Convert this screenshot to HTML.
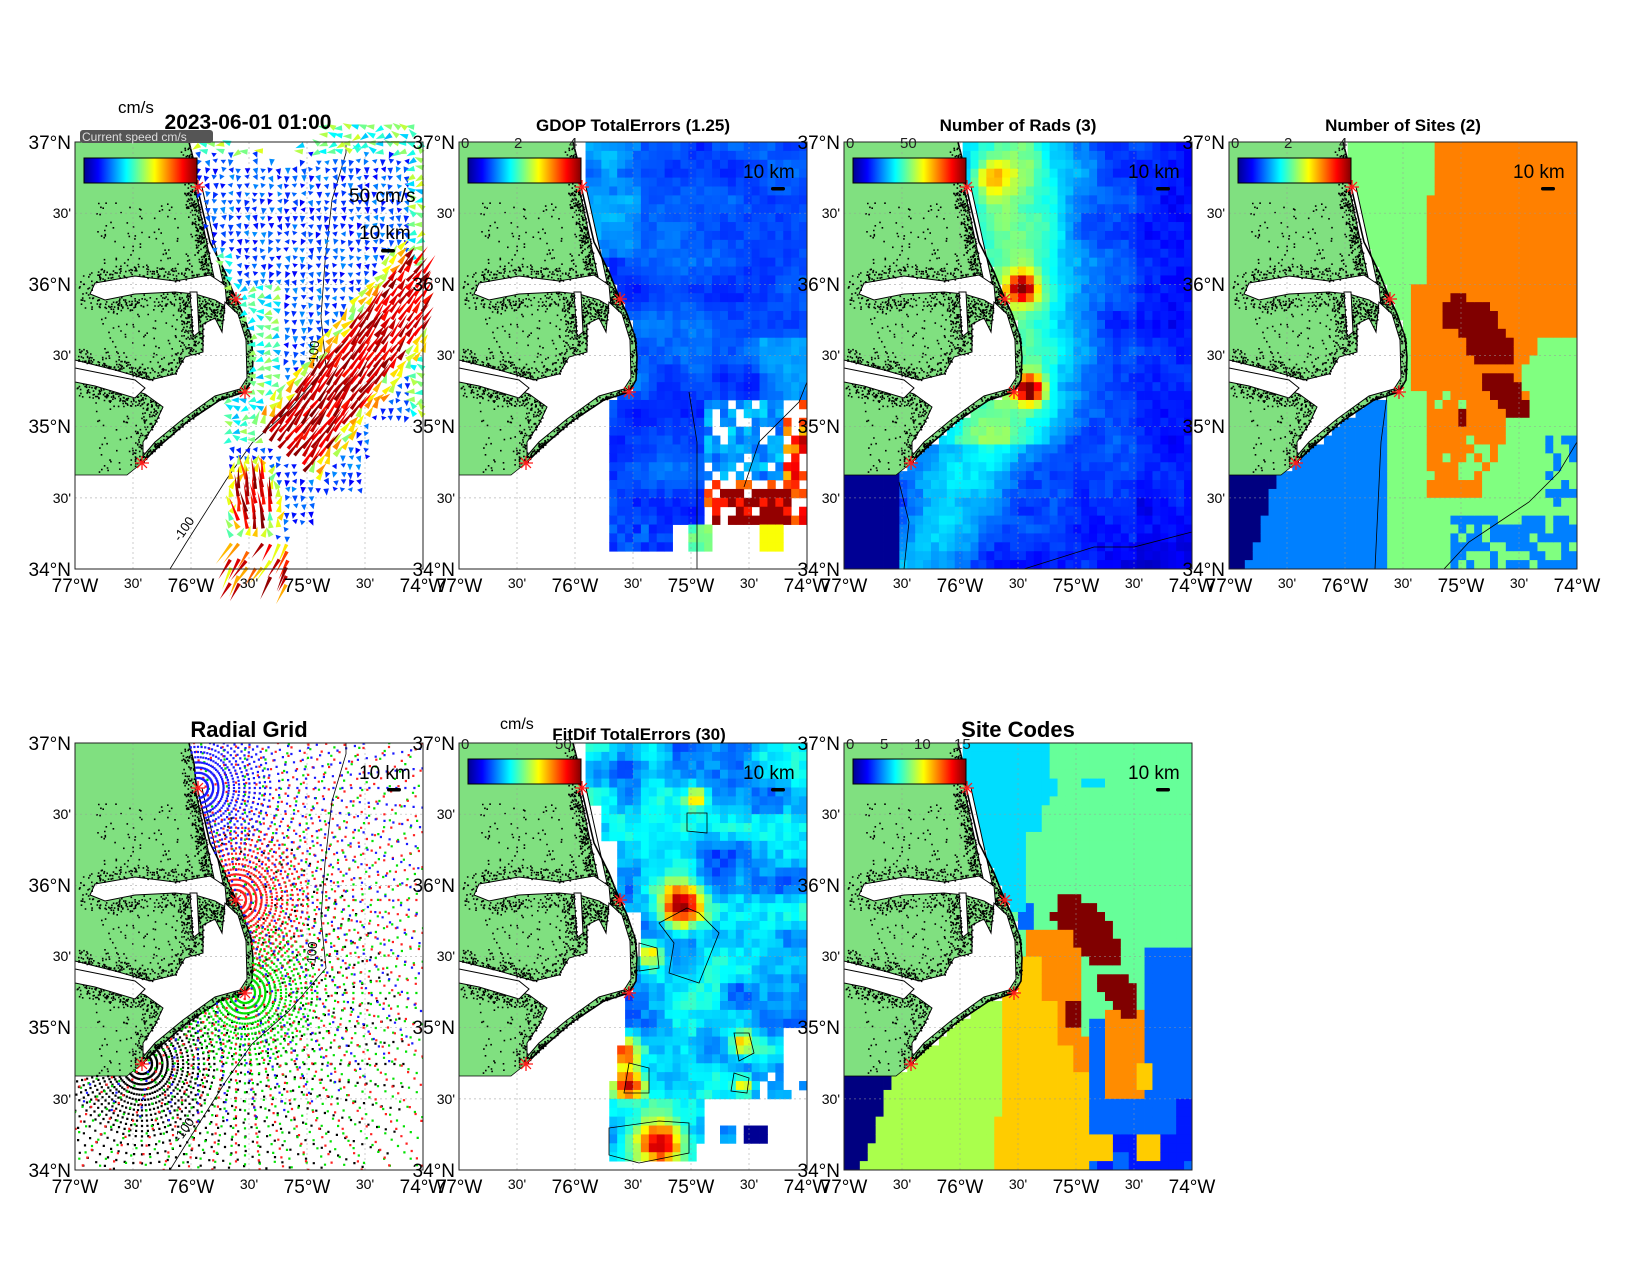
<!DOCTYPE html>
<html><head><meta charset="utf-8"><style>
html,body{margin:0;padding:0;background:#fff;}
svg{display:block;font-family:"Liberation Sans",Arial,sans-serif;}
.d{font-size:19px;fill:#000;}
.s{font-size:14px;fill:#000;}
.t{font-size:17px;font-weight:bold;fill:#000;}
.T{font-size:22px;font-weight:bold;fill:#000;}
.c{font-size:15px;fill:#222;}
.k{font-size:19px;fill:#000;}
</style></head><body>
<svg id="s" width="1650" height="1275" viewBox="0 0 1650 1275" xmlns="http://www.w3.org/2000/svg">
<defs>
<linearGradient id="jet" x1="0" x2="1" y1="0" y2="0">
<stop offset="0" stop-color="#00008f"/><stop offset="0.125" stop-color="#0000ff"/><stop offset="0.375" stop-color="#00ffff"/><stop offset="0.625" stop-color="#ffff00"/><stop offset="0.875" stop-color="#ff0000"/><stop offset="1" stop-color="#800000"/>
</linearGradient>
<clipPath id="cp"><rect x="0" y="0" width="348" height="427"/></clipPath>
</defs>
<g id="p1" transform="translate(75,142)"></g>
<g id="p2" transform="translate(459,142)"></g>
<g id="p3" transform="translate(844,142)"></g>
<g id="p4" transform="translate(1229,142)"></g>
<g id="p5" transform="translate(75,743)"></g>
<g id="p6" transform="translate(459,743)"></g>
<g id="p7" transform="translate(844,743)"></g>

<text x="118" y="113" class="k" style="font-size:17px">cm/s</text>
<rect x="80" y="130" width="133" height="13" rx="3" fill="#555"/>
<text x="82" y="141" style="font-size:12px;fill:#ddd">Current speed cm/s</text>
<text x="248" y="129" class="T" text-anchor="middle" style="font-size:21px">2023-06-01 01:00</text>
<text x="633" y="131" class="t" text-anchor="middle">GDOP TotalErrors (1.25)</text>
<text x="1018" y="131" class="t" text-anchor="middle">Number of Rads (3)</text>
<text x="1403" y="131" class="t" text-anchor="middle">Number of Sites (2)</text>
<text x="249" y="737" class="T" text-anchor="middle">Radial Grid</text>
<text x="500" y="729" style="font-size:16px">cm/s</text>
<text x="639" y="740" class="t" text-anchor="middle">FitDif TotalErrors (30)</text>
<text x="1018" y="737" class="T" text-anchor="middle">Site Codes</text>

<g transform="translate(75,142)">
<text x="-4" y="7" class="d" text-anchor="end">37°N</text><text x="-4" y="76" class="s" text-anchor="end">30'</text><text x="-4" y="149" class="d" text-anchor="end">36°N</text><text x="-4" y="218" class="s" text-anchor="end">30'</text><text x="-4" y="291" class="d" text-anchor="end">35°N</text><text x="-4" y="361" class="s" text-anchor="end">30'</text><text x="-4" y="434" class="d" text-anchor="end">34°N</text>
<text x="0" y="450" class="d" text-anchor="middle">77°W</text><text x="58" y="446" class="s" text-anchor="middle">30'</text><text x="116" y="450" class="d" text-anchor="middle">76°W</text><text x="174" y="446" class="s" text-anchor="middle">30'</text><text x="232" y="450" class="d" text-anchor="middle">75°W</text><text x="290" y="446" class="s" text-anchor="middle">30'</text><text x="348" y="450" class="d" text-anchor="middle">74°W</text>
</g>
<g transform="translate(459,142)">
<text x="-4" y="7" class="d" text-anchor="end">37°N</text><text x="-4" y="76" class="s" text-anchor="end">30'</text><text x="-4" y="149" class="d" text-anchor="end">36°N</text><text x="-4" y="218" class="s" text-anchor="end">30'</text><text x="-4" y="291" class="d" text-anchor="end">35°N</text><text x="-4" y="361" class="s" text-anchor="end">30'</text><text x="-4" y="434" class="d" text-anchor="end">34°N</text>
<text x="0" y="450" class="d" text-anchor="middle">77°W</text><text x="58" y="446" class="s" text-anchor="middle">30'</text><text x="116" y="450" class="d" text-anchor="middle">76°W</text><text x="174" y="446" class="s" text-anchor="middle">30'</text><text x="232" y="450" class="d" text-anchor="middle">75°W</text><text x="290" y="446" class="s" text-anchor="middle">30'</text><text x="348" y="450" class="d" text-anchor="middle">74°W</text>
<text x="2" y="6" class="c">0</text><text x="55" y="6" class="c">2</text><text x="110" y="6" class="c">4</text>
</g>
<g transform="translate(844,142)">
<text x="-4" y="7" class="d" text-anchor="end">37°N</text><text x="-4" y="76" class="s" text-anchor="end">30'</text><text x="-4" y="149" class="d" text-anchor="end">36°N</text><text x="-4" y="218" class="s" text-anchor="end">30'</text><text x="-4" y="291" class="d" text-anchor="end">35°N</text><text x="-4" y="361" class="s" text-anchor="end">30'</text><text x="-4" y="434" class="d" text-anchor="end">34°N</text>
<text x="0" y="450" class="d" text-anchor="middle">77°W</text><text x="58" y="446" class="s" text-anchor="middle">30'</text><text x="116" y="450" class="d" text-anchor="middle">76°W</text><text x="174" y="446" class="s" text-anchor="middle">30'</text><text x="232" y="450" class="d" text-anchor="middle">75°W</text><text x="290" y="446" class="s" text-anchor="middle">30'</text><text x="348" y="450" class="d" text-anchor="middle">74°W</text>
<text x="2" y="6" class="c">0</text><text x="56" y="6" class="c">50</text>
</g>
<g transform="translate(1229,142)">
<text x="-4" y="7" class="d" text-anchor="end">37°N</text><text x="-4" y="76" class="s" text-anchor="end">30'</text><text x="-4" y="149" class="d" text-anchor="end">36°N</text><text x="-4" y="218" class="s" text-anchor="end">30'</text><text x="-4" y="291" class="d" text-anchor="end">35°N</text><text x="-4" y="361" class="s" text-anchor="end">30'</text><text x="-4" y="434" class="d" text-anchor="end">34°N</text>
<text x="0" y="450" class="d" text-anchor="middle">77°W</text><text x="58" y="446" class="s" text-anchor="middle">30'</text><text x="116" y="450" class="d" text-anchor="middle">76°W</text><text x="174" y="446" class="s" text-anchor="middle">30'</text><text x="232" y="450" class="d" text-anchor="middle">75°W</text><text x="290" y="446" class="s" text-anchor="middle">30'</text><text x="348" y="450" class="d" text-anchor="middle">74°W</text>
<text x="2" y="6" class="c">0</text><text x="55" y="6" class="c">2</text><text x="110" y="6" class="c">4</text>
</g>
<g transform="translate(75,743)">
<text x="-4" y="7" class="d" text-anchor="end">37°N</text><text x="-4" y="76" class="s" text-anchor="end">30'</text><text x="-4" y="149" class="d" text-anchor="end">36°N</text><text x="-4" y="218" class="s" text-anchor="end">30'</text><text x="-4" y="291" class="d" text-anchor="end">35°N</text><text x="-4" y="361" class="s" text-anchor="end">30'</text><text x="-4" y="434" class="d" text-anchor="end">34°N</text>
<text x="0" y="450" class="d" text-anchor="middle">77°W</text><text x="58" y="446" class="s" text-anchor="middle">30'</text><text x="116" y="450" class="d" text-anchor="middle">76°W</text><text x="174" y="446" class="s" text-anchor="middle">30'</text><text x="232" y="450" class="d" text-anchor="middle">75°W</text><text x="290" y="446" class="s" text-anchor="middle">30'</text><text x="348" y="450" class="d" text-anchor="middle">74°W</text>
</g>
<g transform="translate(459,743)">
<text x="-4" y="7" class="d" text-anchor="end">37°N</text><text x="-4" y="76" class="s" text-anchor="end">30'</text><text x="-4" y="149" class="d" text-anchor="end">36°N</text><text x="-4" y="218" class="s" text-anchor="end">30'</text><text x="-4" y="291" class="d" text-anchor="end">35°N</text><text x="-4" y="361" class="s" text-anchor="end">30'</text><text x="-4" y="434" class="d" text-anchor="end">34°N</text>
<text x="0" y="450" class="d" text-anchor="middle">77°W</text><text x="58" y="446" class="s" text-anchor="middle">30'</text><text x="116" y="450" class="d" text-anchor="middle">76°W</text><text x="174" y="446" class="s" text-anchor="middle">30'</text><text x="232" y="450" class="d" text-anchor="middle">75°W</text><text x="290" y="446" class="s" text-anchor="middle">30'</text><text x="348" y="450" class="d" text-anchor="middle">74°W</text>
<text x="2" y="6" class="c">0</text><text x="96" y="6" class="c">50</text>
</g>
<g transform="translate(844,743)">
<text x="-4" y="7" class="d" text-anchor="end">37°N</text><text x="-4" y="76" class="s" text-anchor="end">30'</text><text x="-4" y="149" class="d" text-anchor="end">36°N</text><text x="-4" y="218" class="s" text-anchor="end">30'</text><text x="-4" y="291" class="d" text-anchor="end">35°N</text><text x="-4" y="361" class="s" text-anchor="end">30'</text><text x="-4" y="434" class="d" text-anchor="end">34°N</text>
<text x="0" y="450" class="d" text-anchor="middle">77°W</text><text x="58" y="446" class="s" text-anchor="middle">30'</text><text x="116" y="450" class="d" text-anchor="middle">76°W</text><text x="174" y="446" class="s" text-anchor="middle">30'</text><text x="232" y="450" class="d" text-anchor="middle">75°W</text><text x="290" y="446" class="s" text-anchor="middle">30'</text><text x="348" y="450" class="d" text-anchor="middle">74°W</text>
<text x="2" y="6" class="c">0</text><text x="36" y="6" class="c">5</text><text x="70" y="6" class="c">10</text><text x="110" y="6" class="c">15</text>
</g>

<g transform="translate(75,142)"><text x="274" y="60" class="k">50 cm/s</text><text x="284" y="97" class="k">10 km</text></g>
<g transform="translate(459,142)"><text x="284" y="36" class="k">10 km</text></g>
<g transform="translate(844,142)"><text x="284" y="36" class="k">10 km</text></g>
<g transform="translate(1229,142)"><text x="284" y="36" class="k">10 km</text></g>
<g transform="translate(75,743)"><text x="284" y="36" class="k">10 km</text></g>
<g transform="translate(459,743)"><text x="284" y="36" class="k">10 km</text></g>
<g transform="translate(844,743)"><text x="284" y="36" class="k">10 km</text></g>
<g transform="translate(75,743)"><text transform="translate(105,400) rotate(-55)" style="font-size:13px">-100</text><text transform="translate(240,225) rotate(-85)" style="font-size:13px">-100</text></g>
<g transform="translate(75,142)"><text transform="translate(105,400) rotate(-55)" style="font-size:13px">-100</text><text transform="translate(242,225) rotate(-85)" style="font-size:13px">-100</text></g>
</svg>
<script>
(function(){
var NS="http://www.w3.org/2000/svg";
function el(t,a,p){var e=document.createElementNS(NS,t);for(var k in a)e.setAttribute(k,a[k]);if(p)p.appendChild(e);return e;}
var W=348,H=427;
var LAND=[[0,0],[114,0],[119,20],[121,40],[128,70],[135,100],[150,130],[158,150],[168,172],[176,195],[178,215],[177,238],[170,250],[145,258],[112,280],[82,306],[67,321],[52,333],[0,333]];
var WAT=[
[[120,45],[127,45],[148,140],[140,140]],
[[20,141],[60,134],[100,139],[135,133],[150,143],[152,165],[140,158],[120,152],[100,150],[60,152],[30,158],[15,152]],
[[115,150],[122,150],[124,190],[118,195]],
[[150,160],[163,172],[171,198],[172,236],[165,247],[140,254],[108,277],[80,300],[68,314],[68,300],[80,282],[88,265],[70,252],[40,243],[0,228],[0,218],[40,228],[75,238],[100,232],[110,215],[128,210],[128,182],[140,176],[147,190]],
[[0,226],[30,232],[60,238],[70,246],[60,256],[40,250],[20,244],[0,240]]
];
function inP(p,x,y){var c=false;for(var i=0,j=p.length-1;i<p.length;j=i++){var xi=p[i][0],yi=p[i][1],xj=p[j][0],yj=p[j][1];if(((yi>y)!=(yj>y))&&(x<(xj-xi)*(y-yi)/(yj-yi)+xi))c=!c;}return c;}
function ocean(x,y){return !inP(LAND,x,y);}
function ptsStr(p){return p.map(function(q){return q[0]+","+q[1];}).join(" ");}
var seed=12345;function rnd(){seed=(seed*1103515245+12345)&0x7fffffff;return seed/0x7fffffff;}
function hash(i,j,s){var v=Math.sin(i*127.1+j*311.7+s*74.7)*43758.5453;return v-Math.floor(v);}
function sn(x,y,s,sc){var X=x/sc,Y=y/sc,i=Math.floor(X),j=Math.floor(Y),fx=X-i,fy=Y-j;fx=fx*fx*(3-2*fx);fy=fy*fy*(3-2*fy);
var a=hash(i,j,s),b=hash(i+1,j,s),c=hash(i,j+1,s),d=hash(i+1,j+1,s);return a+(b-a)*fx+(c-a)*fy+(a-b-c+d)*fx*fy;}
function jet(t){t=Math.max(0,Math.min(1,t));function c(v){return Math.round(255*Math.max(0,Math.min(1,v)));}
return "rgb("+c(1.5-Math.abs(4*t-3))+","+c(1.5-Math.abs(4*t-2))+","+c(1.5-Math.abs(4*t-1))+")";}
function g2(x,y,cx,cy,r){return Math.exp(-((x-cx)*(x-cx)+(y-cy)*(y-cy))/(r*r));}
var DOTS=[];
(function(){var segs=[];var coast=LAND.slice(1,17);
function addPoly(p,closed){for(var i=0;i<p.length-(closed?0:1);i++){segs.push([p[i],p[(i+1)%p.length]]);}}
addPoly(coast,false);WAT.forEach(function(w){addPoly(w,true);});
segs.forEach(function(s){var dx=s[1][0]-s[0][0],dy=s[1][1]-s[0][1],L=Math.sqrt(dx*dx+dy*dy);var n=Math.floor(L/0.45);
for(var k=0;k<n;k++){var f=rnd();var ox=(rnd()-0.5)*26,oy=(rnd()-0.5)*26;var x=s[0][0]+dx*f+ox,y=s[0][1]+dy*f+oy;
if(x>1&&y>1&&inP(LAND,x,y)){var inw=false;WAT.forEach(function(w){if(inP(w,x,y))inw=true;});if(!inw)DOTS.push([x,y]);}}});
for(var k=0;k<500;k++){var x=20+rnd()*150,y=60+rnd()*270;if(inP(LAND,x,y)){var inw=false;WAT.forEach(function(w){if(inP(w,x,y))inw=true;});if(!inw)DOTS.push([x,y]);}}
})();
var DOTSTR="";DOTS.forEach(function(d){DOTSTR+="M"+d[0].toFixed(1)+","+d[1].toFixed(1)+"h1.6v1.6h-1.6z";});
var STARS=[[123,45],[161,157],[170,250],[67,321]];
var ISO="M271,0 L271,11 L257,58 L250,120 L246,175 L251,225 L214,268 L177,301 L151,338 L111,401 L95,427";
function drawLand(g){
el("polygon",{points:ptsStr(LAND),fill:"#80e080",stroke:"#000","stroke-width":"0.8"},g);
WAT.forEach(function(w){el("polygon",{points:ptsStr(w),fill:"#fff",stroke:"#000","stroke-width":"1"},g);});
el("path",{d:DOTSTR,fill:"#000"},g);
el("polyline",{points:ptsStr(LAND.slice(1,17)),fill:"none",stroke:"#000","stroke-width":"1.6"},g);
}
function drawStars(g){STARS.forEach(function(s){var d="";for(var a=0;a<4;a++){var an=a*Math.PI/4;d+="M"+(s[0]-7*Math.cos(an))+","+(s[1]-7*Math.sin(an))+"L"+(s[0]+7*Math.cos(an))+","+(s[1]+7*Math.sin(an));}
el("path",{d:d,stroke:"#ff1a1a","stroke-width":"1.3",fill:"none"},g);});}
function drawGrid(g){var d="";for(var i=1;i<6;i++){d+="M"+(i*58)+",0V427";d+="M0,"+(i*71.17)+"H348";}
el("path",{d:d,stroke:"#999","stroke-width":"0.7","stroke-dasharray":"2,3",fill:"none",opacity:"0.7"},g);}
function drawFrame(g,cb,bar){
el("rect",{x:0,y:0,width:W,height:H,fill:"none",stroke:"#222","stroke-width":"1"},g);
if(cb)el("rect",{x:9,y:16,width:113,height:25,fill:"url(#jet)",stroke:"#000","stroke-width":"1"},g);
el("rect",{x:bar[0],y:bar[1],width:14,height:3.5,rx:1.7,fill:"#000"},g);
}
function heat(g,f){var cols=44,rows=48,cw=W/cols,ch=H/rows;
for(var i=0;i<cols;i++)for(var j=0;j<rows;j++){var x=(i+0.5)*cw,y=(j+0.5)*ch;var c=f(x,y,i,j);
if(c)el("rect",{x:(i*cw).toFixed(2),y:(j*ch).toFixed(2),width:(cw+0.4).toFixed(2),height:(ch+0.4).toFixed(2),fill:c},g);}}
function panel(id){var o=document.getElementById(id);var g=el("g",{"clip-path":"url(#cp)"},o);return [o,g];}

(function(){var P=panel("p2"),g=P[1];
heat(g,function(x,y,i,j){if(!ocean(x,y))return null;if(x<(y<140?124:150))return null;if(y>413)return null;
var r=hash(i,j,2);
if(y>385){if(x<215)return jet(0.15+0.1*r);if(x>228&&x<252&&y<410)return jet(0.42+0.1*r);if(x>300&&x<325&&y<410)return jet(0.62);return null;}
if(y>335&&x>245){if(x>255&&x<335&&y>345){if(r<0.15)return null;return jet(r<0.35?0.85:0.98);}if(r<0.4)return null;return jet(0.6+0.3*r);}
if(y>260&&x>245){if(r<0.3)return null;if(x>325)return jet(0.55+0.4*r);return jet(0.15+0.2*r);}
var t=0.13+0.1*sn(x,y,3,30)+0.04*r;if(x<185&&y<120)t+=0.1*sn(x,y,5,15);if(x>300&&y>200)t+=0.05;return jet(t);});
drawLand(g);drawGrid(g);drawStars(g);
el("path",{d:"M238,427 L238,300 L230,250 M285,345 L300,300 L340,260 L348,240",stroke:"#000","stroke-width":"0.8",fill:"none"},g);
drawFrame(P[0],true,[312,45]);})();

(function(){var P=panel("p3"),g=P[1];
heat(g,function(x,y,i,j){if(!ocean(x,y))return null;
if(x<53&&y>331)return jet(0.02);
var r=hash(i,j,3);var xc=170+(y>250?-(y-250)*0.5:0);
var t=0.12+0.32*Math.exp(-Math.pow((x-xc)/55,2))*(y<300?1:0.55)+0.08*sn(x,y,7,30)+0.05*r;
t+=0.6*g2(x,y,178,146,14)+0.6*g2(x,y,186,248,14)+0.22*g2(x,y,148,38,18);
if(y>330)t-=0.05*(y-330)/100;if(x>290)t-=0.03;return jet(t);});
drawLand(g);drawGrid(g);drawStars(g);
el("path",{d:"M60,427 L65,380 L55,340 M180,427 L250,405 L290,405 L348,390",stroke:"#000","stroke-width":"0.8",fill:"none"},g);
drawFrame(P[0],true,[312,45]);})();

function navyEdge(y){return 49-(y-330)*0.32;}
(function(){var P=panel("p4"),g=P[1];
var B1=[[211,172],[226,154],[255,160],[282,196],[282,224],[250,224],[230,192],[211,186]],B2=[[257,231],[285,231],[297,258],[297,277],[280,277],[257,250]];
heat(g,function(x,y,i,j){if(!ocean(x,y))return null;var r=hash(i,j,4);
if(y>331&&x<navyEdge(y))return "#000080";
if(y>254&&x<158)return "#0080ff";
if(inP(B1,x,y)||inP(B2,x,y)||(x>227&&x<241&&y>263&&y<284))return "#800000";
if(y>370&&x>225&&r<0.65)return "#0080ff";
if(x>318&&y>295&&y<365&&r<0.55)return "#0080ff";
var org=false;
if(y<50)org=x>204;else if(y<144)org=x>195;else if(y<250)org=x>181&&(y<200||x<312-(y-200)*0.6);
else if(y<355)org=x>200&&x<300-(y-250)*0.5&&r>0.15;
if(org)return "#ff8000";return "#80ff80";});
drawLand(g);drawGrid(g);drawStars(g);
el("path",{d:"M158,254 L152,300 L146,427 M215,427 L240,400 L270,380 L300,360 L330,330 L348,300",stroke:"#000","stroke-width":"0.8",fill:"none"},g);
drawFrame(P[0],true,[312,45]);})();

(function(){var P=panel("p6"),g=P[1];
heat(g,function(x,y,i,j){if(!ocean(x,y))return null;var r=hash(i,j,6);
var xl=y<60?126:y<100?141:y<165?155:y<210?179:y<300?164:y<340?155:149;if(x<xl)return null;
if(y>420)return null;if(y>400&&x>235)return null;
if(y>360&&x>245){if(x>285&&x<305&&y>385&&y<410)return jet(0.02);if(x>260&&x<278&&y>385&&y<412)return jet(0.2+0.2*r);return null;}
if(x>300&&y>330&&y<360&&r<0.5)return null;if(x>322&&y>285&&y<325)return null;
var t=0.16+0.22*sn(x,y,9,28)+0.08*r;
t+=0.6*g2(x,y,222,162,22)+0.35*g2(x,y,190,210,12)+0.4*g2(x,y,239,55,10)+0.45*g2(x,y,165,310,15)+0.7*g2(x,y,200,400,22)+0.6*g2(x,y,170,343,14)+0.4*g2(x,y,284,301,12)+0.4*g2(x,y,284,342,10);
return jet(t);});
drawLand(g);drawGrid(g);drawStars(g);
el("path",{d:"M228,165 L240,170 L260,190 L250,215 L240,240 L210,230 L215,200 L200,180 Z M180,200 L198,205 L200,225 L180,228 Z M228,70 L248,70 L248,90 L228,88 Z M275,290 L290,290 L295,310 L280,318 Z M170,320 L190,325 L190,350 L165,350 Z M275,330 L290,335 L288,350 L272,348 Z M150,385 L200,378 L230,380 L230,410 L180,420 L150,412 Z",stroke:"#000","stroke-width":"0.8",fill:"none"},g);
drawFrame(P[0],true,[312,45]);})();

(function(){var P=panel("p7"),g=P[1];
var B1=[[209,172],[218,154],[239,154],[260,170],[278,200],[278,224],[245,224],[225,190],[209,182]],B2=[[256,230],[285,230],[293,250],[293,277],[280,277],[256,250]];
heat(g,function(x,y,i,j){if(!ocean(x,y))return null;var r=hash(i,j,7);
if(y>330&&x<navyEdge(y))return "#000080";
if(inP(B1,x,y)||inP(B2,x,y)||(x>224&&x<239&&y>262&&y<284))return "#800000";
var cy=y<40?208:y<55?216:y<65?203:y<85?195:y<140?185:y<165?179:0;
if(x<cy)return "#00ddff";
if(x>241&&x<263&&y>37&&y<45)return "#00ddff";
if(x>171&&x<186&&y>162&&y<184)return "#0066ff";
if((x>246&&x<271&&y>392&&y<414)||(x>293&&x<316&&y>392&&y<414)||(x>293&&x<309&&y>324&&y<345))return "#ffcc00";
var gl=y<250?176:y<370?156:149;var gr=y<260?196:y<300?215:y<330?230:242;
if(y>217&&x>=gl&&x<gr)return "#ffcc00";
if(y>255&&x<gl)return "#aaff4c";
if(y>355&&x>232)return (x>330||y>395)&&r<0.8?"#0019ff":"#0066ff";
if(x>263&&x<301&&y>264&&y<353)return "#ff8c00";
if(y>185&&x>179&&x<(y<290?240:248)&&y<355)return "#ff8c00";
if((x>300&&y>205)||(x>248&&y>280))return "#0066ff";
return "#66ff99";});
drawLand(g);drawGrid(g);drawStars(g);
drawFrame(P[0],true,[312,45]);})();

(function(){var P=panel("p5"),g=P[1];
drawLand(g);drawGrid(g);
var cols=["#000","#00e000","#ff2020","#1a1aff"],sites=[STARS[3],STARS[2],STARS[1],STARS[0]];
sites.forEach(function(s,k){var d="";var rmax=[270,340,340,340][k];var step=5*Math.PI/180;
for(var r=10;r<rmax;r+=(r<70?5.2:9)){
for(var a=-Math.PI;a<Math.PI;a+=step){var x=s[0]+r*Math.cos(a),y=s[1]+r*Math.sin(a);
if(x<0||x>W||y<0||y>H)continue;if(!ocean(x,y))continue;
d+="M"+(x-1.1).toFixed(1)+","+(y-1.1).toFixed(1)+"h2.2v2.2h-2.2z";}}
el("path",{d:d,fill:cols[k]},g);});
el("path",{d:ISO,stroke:"#000","stroke-width":"0.8",fill:"none"},g);
drawStars(g);drawFrame(P[0],false,[312,45]);})();

(function(){var o=document.getElementById("p1");var g=el("g",{"clip-path":"url(#cp)"},o);
drawLand(g);drawGrid(g);
el("path",{d:ISO,stroke:"#000","stroke-width":"0.8",fill:"none"},g);
var ga=el("g",{},o);var list=[];
function xmax(y){return y<280?355:y<315?297:y<348?285:y<381?240:215;}
for(var y=-14;y<445;y+=8)for(var x=124;x<360;x+=8){
var jx=x+(rnd()-0.5)*2,jy=y+(rnd()-0.5)*2;
if(y<0&&(x<250||x>340))continue;
if(!ocean(jx,Math.max(jy,1)))continue;if(jx>xmax(jy))continue;
if(jy>140&&jx<150)continue;if(jy>280&&jx<140)continue;
if(jy>400&&jx<150)continue;
if(jy<20&&jx>160&&jx<240&&rnd()<0.6)continue;
var r=rnd();var t=0.12+0.15*r,L=4+3*rnd(),ang=Math.PI/2+(rnd()-0.5)*0.9;
var cx=jy<140?130:jy<260?178:160;
if(jx<cx+28&&jy>110&&jy<300){t=0.3+0.25*rnd();ang=Math.PI*(0.8+0.4*rnd());L=8;}
if(jy<10||jx>335){t=0.3+0.3*rnd();L=9;ang=Math.PI*(0.8+0.5*rnd());}
var ax=350,ay=140,bx=215,by=305;var dx=bx-ax,dy=by-ay,ll=dx*dx+dy*dy;var f=((jx-ax)*dx+(jy-ay)*dy)/ll;
var px=ax+f*dx,py=ay+f*dy;var dist=Math.sqrt((jx-px)*(jx-px)+(jy-py)*(jy-py));
if(f>-0.05&&f<1.05){if(dist<30){t=0.85+0.15*rnd();L=(jx>300?12:20)+10*rnd();ang=-0.95+(rnd()-0.5)*0.3;}
else if(dist<44){t=0.5+0.25*rnd();L=10+5*rnd();ang=-0.95+(rnd()-0.5)*0.8;}}
var e=((jx-178)/20)*((jx-178)/20)+((jy-362)/32)*((jy-362)/32);
if(e<1){t=0.8+0.2*rnd();L=20+6*rnd();ang=-1.75+(rnd()-0.5)*0.4;}else if(e<2.2){t=0.45+0.25*rnd();L=10;ang=-1.5+(rnd()-0.5)*1.5;}
if(jy>400){if(rnd()<0.5)continue;t=0.6+0.4*rnd();L=18+8*rnd();ang=2.1+(rnd()-0.5)*0.3;}
list.push([jx,jy,t,L,ang]);}
list.sort(function(a,b){return a[2]-b[2];});
list.forEach(function(a){var x=a[0],y=a[1],L=a[3],an=a[4];var ux=Math.cos(an),uy=Math.sin(an);var w=L>15?1.8:2.8;
var tx=x+L*ux,ty=y+L*uy;var p=(x-w*uy).toFixed(1)+","+(y+w*ux).toFixed(1)+" "+(x+w*uy).toFixed(1)+","+(y-w*ux).toFixed(1)+" "+tx.toFixed(1)+","+ty.toFixed(1);
el("polygon",{points:p,fill:jet(a[2])},ga);});
drawStars(o);drawFrame(o,true,[306,107]);})();
})();
</script>
</body></html>
